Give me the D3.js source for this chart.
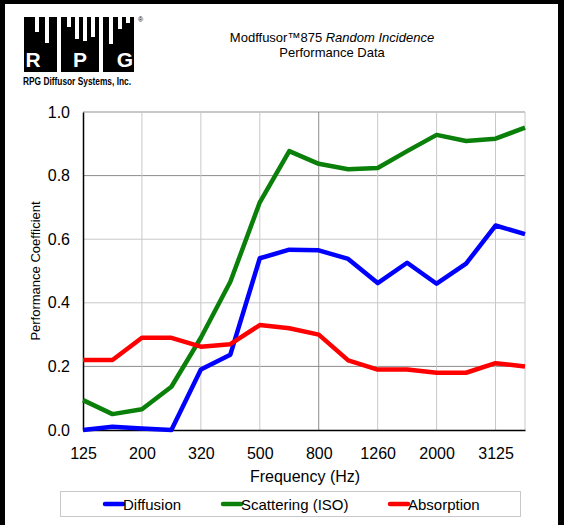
<!DOCTYPE html>
<html>
  <head>
    <meta charset="utf-8" />
    <title>Modffusor 875 Random Incidence</title>
    <style>
      body {
        margin: 0;
        background: #fff;
      }
      text {
        font-family: Arial, 'Liberation Sans', sans-serif;
        fill: #000;
      }
      .grid {
        stroke: #c8c8c8;
        stroke-width: 1px;
      }
      .grid.dark {
        stroke: #8c8c8c;
      }
      .series {
        fill: none;
        stroke-width: 4.5px;
        stroke-linejoin: round;
      }
    </style>
    <script src="https://d3js.org/d3.v7.min.js"></script>
  </head>
  <body>
    <svg width="564" height="525"></svg>
    <script>
      // third-octave bands (Hz) and the labels shown under the axis
      var freqs = [125, 160, 200, 250, 315, 400, 500, 630, 800, 1000, 1250, 1600, 2000, 2500, 3150, 4000]
      var freqLabels = ['125', '', '200', '', '320', '', '500', '', '800', '', '1260', '', '2000', '', '3125', '']
      var yTicks = [0, 0.2, 0.4, 0.6, 0.8, 1.0]

      var diffusion = [0.0, 0.01, 0.005, 0.0, 0.19, 0.237, 0.54, 0.567, 0.565, 0.538, 0.462, 0.526, 0.46, 0.523, 0.643, 0.616]
      var scattering = [0.094, 0.05, 0.065, 0.136, 0.29, 0.466, 0.716, 0.877, 0.837, 0.82, 0.824, 0.877, 0.928, 0.909, 0.916, 0.951]
      var absorption = [0.22, 0.22, 0.29, 0.29, 0.262, 0.27, 0.33, 0.32, 0.30, 0.219, 0.19, 0.19, 0.18, 0.18, 0.21, 0.20]

      var seriesNames = ['Diffusion', 'Scattering (ISO)', 'Absorption']
      var seriesColors = ['#0000ff', '#0a800a', '#ff0000']
      var seriesData = [diffusion, scattering, absorption]

      var svg = d3.select('svg')

      // page frame (left, top, right black bars)
      svg.append('rect').attr('x', 0).attr('y', 0).attr('width', 564).attr('height', 4).attr('fill', '#000')
      svg.append('rect').attr('x', 0).attr('y', 0).attr('width', 5).attr('height', 525).attr('fill', '#000')
      svg.append('rect').attr('x', 558).attr('y', 0).attr('width', 6).attr('height', 525).attr('fill', '#000')

      // logo
      var logo = svg.append('g').attr('transform', 'translate(24,17)')
      logo.append('rect').attr('width', 110).attr('height', 55).attr('fill', '#000')
      // white wells cut down from the top [x, width, depth]
      var wells = [
        [11, 4, 15], [21, 4, 26], [33, 4, 55], [43, 4, 10], [51, 4, 22],
        [59, 4, 24], [67, 4, 20], [75, 4, 55], [85, 4, 27], [94, 4, 12], [102, 4, 6]
      ]
      logo
        .selectAll('.well')
        .data(wells)
        .enter()
        .append('rect')
        .attr('class', 'well')
        .attr('x', function (d) {
          return d[0]
        })
        .attr('y', 0)
        .attr('width', function (d) {
          return d[1]
        })
        .attr('height', function (d) {
          return d[2]
        })
        .attr('fill', '#fff')
      logo
        .selectAll('.letter')
        .data([
          ['R', 9],
          ['P', 56],
          ['G', 101],
        ])
        .enter()
        .append('text')
        .attr('x', function (d) {
          return d[1]
        })
        .attr('y', 50)
        .attr('text-anchor', 'middle')
        .style('font-size', '21px')
        .style('font-weight', 'bold')
        .style('fill', '#fff')
        .text(function (d) {
          return d[0]
        })
      svg.append('text').attr('x', 138).attr('y', 22).style('font-size', '7px').text('®')
      svg
        .append('text')
        .attr('x', 23)
        .attr('y', 85)
        .attr('textLength', 108)
        .attr('lengthAdjust', 'spacingAndGlyphs')
        .style('font-size', '10px')
        .style('font-weight', 'bold')
        .text('RPG Diffusor Systems, Inc.')

      // title
      var title = svg.append('text').attr('x', 332).attr('y', 42).attr('text-anchor', 'middle').style('font-size', '13px')
      title.append('tspan').text('Modffusor™875 ')
      title.append('tspan').style('font-style', 'italic').text('Random Incidence')
      svg.append('text').attr('x', 332).attr('y', 57).attr('text-anchor', 'middle').style('font-size', '13px').text('Performance Data')

      // scales
      var x = d3.scalePoint().domain(freqs).range([83, 525])
      var y = d3.scaleLinear().domain([0, 1]).range([430, 112])

      // grid
      svg
        .selectAll('.hgrid')
        .data(yTicks.slice(1))
        .enter()
        .append('line')
        .attr('class', function (d) {
          return d === 0.8 || d === 0.2 ? 'grid dark' : 'grid'
        })
        .attr('x1', x(freqs[0]))
        .attr('x2', x(freqs[freqs.length - 1]))
        .attr('y1', function (d) {
          return y(d)
        })
        .attr('y2', function (d) {
          return y(d)
        })
        .style('stroke-width', function (d) {
          return d === 1 ? '2px' : '1px'
        })
      svg
        .selectAll('.vgrid')
        .data(
          freqs.filter(function (d, i) {
            return i % 2 === 0 && i > 0
          }).concat([freqs[freqs.length - 1]])
        )
        .enter()
        .append('line')
        .attr('class', function (d) {
          return d === 800 ? 'grid dark' : 'grid'
        })
        .attr('x1', function (d) {
          return x(d)
        })
        .attr('x2', function (d) {
          return x(d)
        })
        .attr('y1', y(0))
        .attr('y2', y(1))

      // axes
      var xAxis = svg
        .append('g')
        .attr('transform', 'translate(0,' + y(0) + ')')
        .call(
          d3
            .axisBottom(x)
            .tickSize(0)
            .tickPadding(18)
            .tickFormat(function (d, i) {
              return freqLabels[i]
            })
        )
      xAxis.select('.domain').attr('stroke', '#000').attr('stroke-width', 1.5)
      xAxis.selectAll('text').style('font-size', '16px').style('font-family', 'Arial, "Liberation Sans", sans-serif')

      var yAxis = svg
        .append('g')
        .attr('transform', 'translate(' + x(freqs[0]) + ',0)')
        .call(d3.axisLeft(y).tickValues(yTicks).tickSize(0).tickPadding(13).tickFormat(d3.format('.1f')))
      yAxis.select('.domain').attr('stroke', '#000').attr('stroke-width', 1.5)
      yAxis.selectAll('text').style('font-size', '16px').style('font-family', 'Arial, "Liberation Sans", sans-serif')

      svg.append('text').attr('x', 305).attr('y', 482).attr('text-anchor', 'middle').style('font-size', '16px').text('Frequency (Hz)')
      svg
        .append('text')
        .attr('transform', 'translate(40,271) rotate(-90)')
        .attr('text-anchor', 'middle')
        .style('font-size', '13px')
        .text('Performance Coefficient')

      // series
      var line = d3
        .line()
        .x(function (d, i) {
          return x(freqs[i])
        })
        .y(function (d) {
          return y(d)
        })
      svg
        .selectAll('.series')
        .data(seriesData)
        .enter()
        .append('path')
        .attr('class', 'series')
        .attr('d', function (d) {
          return line(d)
        })
        .style('stroke', function (d, i) {
          return seriesColors[i]
        })

      // legend
      svg
        .append('rect')
        .attr('x', 60.5)
        .attr('y', 491.5)
        .attr('width', 460)
        .attr('height', 25)
        .attr('fill', 'none')
        .attr('stroke', '#c8c8c8')
      var legendX = [105, 223, 390]
      var item = svg
        .selectAll('.legend-item')
        .data(seriesNames)
        .enter()
        .append('g')
        .attr('class', 'legend-item')
        .attr('transform', function (d, i) {
          return 'translate(' + legendX[i] + ',504)'
        })
      item
        .append('line')
        .attr('x1', 0)
        .attr('x2', 18)
        .style('stroke', function (d, i) {
          return seriesColors[i]
        })
        .style('stroke-width', '4.5px')
        .style('stroke-linecap', 'round')
      item
        .append('text')
        .attr('x', 18)
        .attr('y', 5.5)
        .style('font-size', '15px')
        .text(function (d) {
          return d
        })
    </script>
  </body>
</html>
